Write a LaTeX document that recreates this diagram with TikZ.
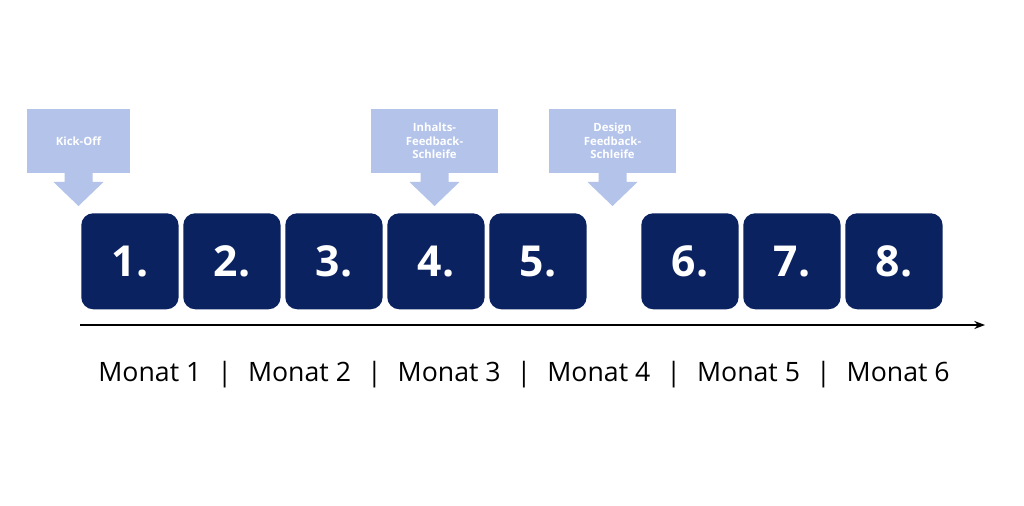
\documentclass[tikz,border=0pt]{standalone}
\usepackage{fontspec}
\setmainfont{Open Sans}
\usetikzlibrary{arrows.meta}
\definecolor{navy}{HTML}{0B2261}
\definecolor{lblue}{HTML}{B3C3EA}
\begin{document}
\begin{tikzpicture}[x=0.75pt,y=-0.75pt,
  step box/.style={fill=navy,rounded corners=9pt,minimum width=73pt,minimum height=72pt,text=white,font=\fontsize{32}{36}\selectfont\bfseries,inner sep=0pt},
  call/.style={fill=lblue,draw=none}]
\useasboundingbox (0,0) rectangle (1024,506);
\fill[white] (0,0) rectangle (1024,506);
\foreach \n/\x in {1/81,2/183,3/285,4/387,5/489,6/641,7/743,8/845}{
  \node[step box,anchor=north west] (b\n) at (\x,213) {\n.};
}
% callouts
\foreach \nm/\l/\r/\t in {k/27/130/{Kick-Off},i/371/498/{Inhalts-\\Feedback-\\Schleife},d/549/676/{Design\\Feedback-\\Schleife}}{
  \pgfmathsetmacro{\c}{(\l+\r)/2}
  \fill[lblue] (\l,109) rectangle (\r,173);
  \fill[lblue] (\c-14,172) -- (\c+14,172) -- (\c+14,182) -- (\c+25,182) -- (\c,206) -- (\c-25,182) -- (\c-14,182) -- cycle;
  \node[text=white,font=\fontsize{8.5}{10}\selectfont\bfseries,align=center] (c\nm) at (\c,141) {\t};
}
\coordinate (s) at (80,325);
\coordinate (e) at (985,325);
\draw[line width=1.2pt,-{Stealth[length=8pt]}] (s) -- (e);
\node[font=\fontsize{20}{24}\selectfont, anchor=base] (m) at (524,381) {Monat 1\hspace{0.6em}|\hspace{0.6em}Monat 2\hspace{0.6em}|\hspace{0.6em}Monat 3\hspace{0.6em}|\hspace{0.6em}Monat 4\hspace{0.6em}|\hspace{0.6em}Monat 5\hspace{0.6em}|\hspace{0.6em}Monat 6};
\end{tikzpicture}
\end{document}
